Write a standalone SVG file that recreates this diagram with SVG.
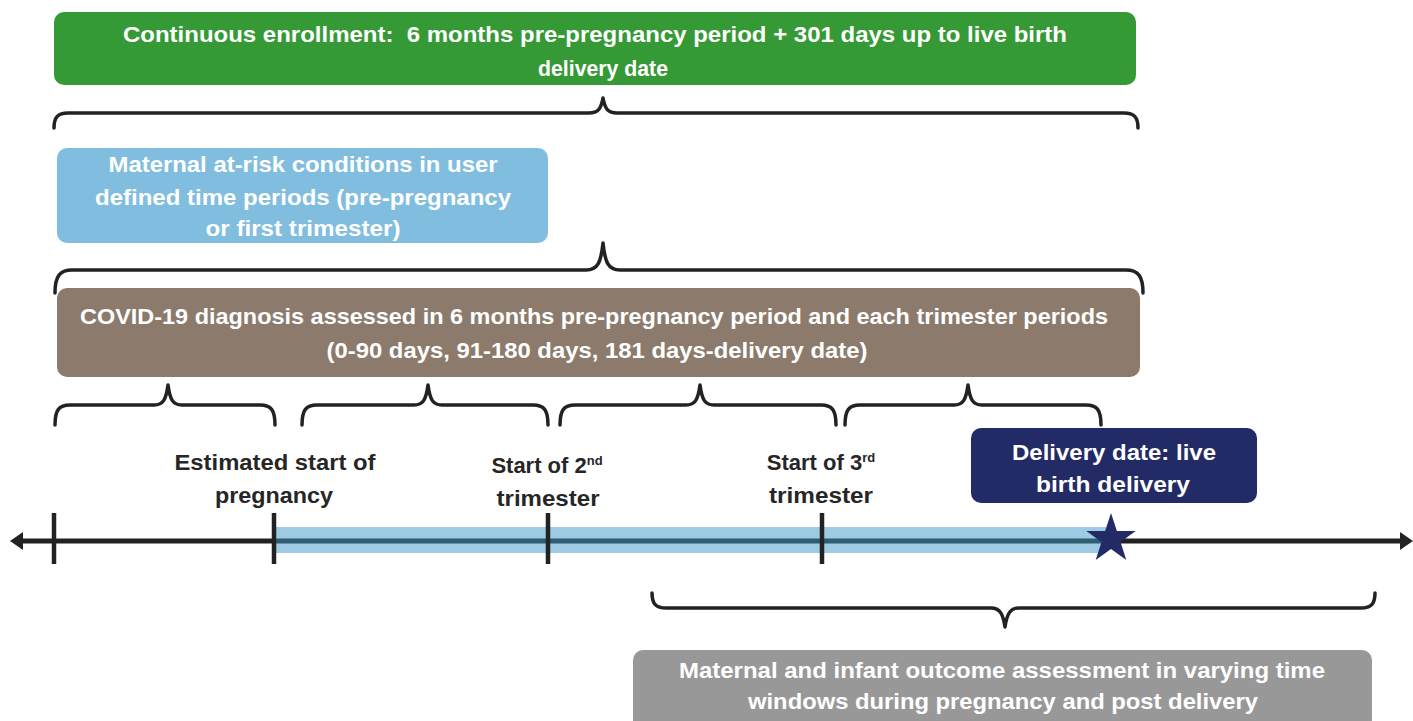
<svg xmlns="http://www.w3.org/2000/svg" width="1413" height="721" viewBox="0 0 1413 721">
<style>
.t{font-family:"Liberation Sans",Arial,sans-serif;font-weight:bold;font-size:22px;fill:#ffffff;text-anchor:middle;white-space:pre}
.d{font-family:"Liberation Sans",Arial,sans-serif;font-weight:bold;font-size:22px;fill:#262626;text-anchor:middle}
.sup{font-size:13px}
.br{fill:none;stroke:#222222;stroke-width:3.5;stroke-linecap:round;stroke-linejoin:round}
.tick{stroke:#222222;stroke-width:4.5}
</style>
<rect width="1413" height="721" fill="#ffffff"/>
<g id="enrollment">
<rect x="54" y="12" width="1082" height="73" rx="10" fill="#359a35"/>
<text class="t" x="595" y="42" textLength="944" lengthAdjust="spacingAndGlyphs" xml:space="preserve">Continuous enrollment:  6 months pre-pregnancy period + 301 days up to live birth</text>
<text class="t" x="603" y="76" textLength="130" lengthAdjust="spacingAndGlyphs">delivery date</text>
</g>
<g id="at-risk">
<rect x="57" y="148" width="491" height="95" rx="10" fill="#80bddf"/>
<text class="t" x="303" y="172" textLength="389" lengthAdjust="spacingAndGlyphs">Maternal at-risk conditions in user</text>
<text class="t" x="303" y="205" textLength="416" lengthAdjust="spacingAndGlyphs">defined time periods (pre-pregnancy</text>
<text class="t" x="303" y="236" textLength="195" lengthAdjust="spacingAndGlyphs">or first trimester)</text>
</g>
<g id="covid">
<rect x="57" y="288" width="1083" height="89" rx="10" fill="#8c7b6c"/>
<text class="t" x="594" y="324" textLength="1028" lengthAdjust="spacingAndGlyphs">COVID-19 diagnosis assessed in 6 months pre-pregnancy period and each trimester periods</text>
<text class="t" x="597" y="358" textLength="541" lengthAdjust="spacingAndGlyphs">(0-90 days, 91-180 days, 181 days-delivery date)</text>
</g>
<g id="delivery">
<rect x="971" y="428" width="286" height="75" rx="10" fill="#232b67"/>
<text class="t" x="1114" y="460" textLength="204" lengthAdjust="spacingAndGlyphs">Delivery date: live</text>
<text class="t" x="1113" y="492" textLength="154" lengthAdjust="spacingAndGlyphs">birth delivery</text>
</g>
<g id="outcome">
<rect x="633" y="650" width="739" height="90" rx="10" fill="#989898"/>
<text class="t" x="1002" y="678" textLength="646" lengthAdjust="spacingAndGlyphs">Maternal and infant outcome assessment in varying time</text>
<text class="t" x="1003" y="709" textLength="510" lengthAdjust="spacingAndGlyphs">windows during pregnancy and post delivery</text>
</g>
<g id="labels">
<text class="d" x="275" y="470" textLength="201" lengthAdjust="spacingAndGlyphs">Estimated start of</text>
<text class="d" x="274" y="503" textLength="118" lengthAdjust="spacingAndGlyphs">pregnancy</text>
<text class="d" x="547" y="473">Start of 2<tspan class="sup" dy="-8">nd</tspan></text>
<text class="d" x="548" y="506" textLength="103" lengthAdjust="spacingAndGlyphs">trimester</text>
<text class="d" x="821" y="470">Start of 3<tspan class="sup" dy="-8">rd</tspan></text>
<text class="d" x="821" y="503" textLength="104" lengthAdjust="spacingAndGlyphs">trimester</text>
</g>
<g id="connectors">
<path class="br" d="M54,128 C54,117 58,113 68,113 L589,113 C598,113 601,109 603,98 C605,109 608,113 617,113 L1124,113 C1134,113 1138,117 1138,128"/>
<path class="br" d="M55,293 C55,276 60,270 72,270 L586,270 C598,270 601,262 603,243 C605,262 608,270 620,270 L1126,270 C1138,270 1143,276 1143,293"/>
<path class="br" d="M55,425 C55,410 59,405 70,405 L154,405 C163,405 166,400 168,385 C170,400 173,405 182,405 L260,405 C271,405 275,410 275,425"/>
<path class="br" d="M302,425 C302,410 306,405 317,405 L414,405 C423,405 426,400 428,385 C430,400 433,405 442,405 L533,405 C544,405 548,410 548,425"/>
<path class="br" d="M560,425 C560,410 564,405 575,405 L686,405 C695,405 698,400 700,385 C702,400 705,405 714,405 L821,405 C832,405 836,410 836,425"/>
<path class="br" d="M845,425 C845,410 849,405 860,405 L954,405 C963,405 966,400 968,385 C970,400 973,405 982,405 L1086,405 C1097,405 1101,410 1101,425"/>
<path class="br" d="M652,593 C652,604 656,608 666,608 L991,608 C1000,608 1003,614 1005,627 C1007,614 1010,608 1019,608 L1361,608 C1371,608 1375,604 1375,593"/>
</g>
<g id="timeline">
<rect x="274" y="527" width="832" height="26" fill="#9ecae3"/>
<line x1="20" y1="541" x2="274" y2="541" stroke="#222222" stroke-width="5"/>
<line x1="274" y1="541" x2="1106" y2="541" stroke="#2f5d72" stroke-width="5"/>
<line x1="1106" y1="541" x2="1402" y2="541" stroke="#222222" stroke-width="5"/>
<polygon points="10,541 23,532 23,550" fill="#222222"/>
<polygon points="1413,541 1400,532 1400,550" fill="#222222"/>
<line class="tick" x1="54" y1="513" x2="54" y2="564"/>
<line class="tick" x1="274" y1="513" x2="274" y2="564"/>
<line class="tick" x1="548" y1="513" x2="548" y2="564"/>
<line class="tick" x1="822" y1="513" x2="822" y2="564"/>
<polygon id="star" points="1111,513 1116.88,530.91 1135.73,530.97 1120.51,542.09 1126.28,560.03 1111,549 1095.72,560.03 1101.49,542.09 1086.27,530.97 1105.12,530.91" fill="#232b67"/>
</g>
</svg>
